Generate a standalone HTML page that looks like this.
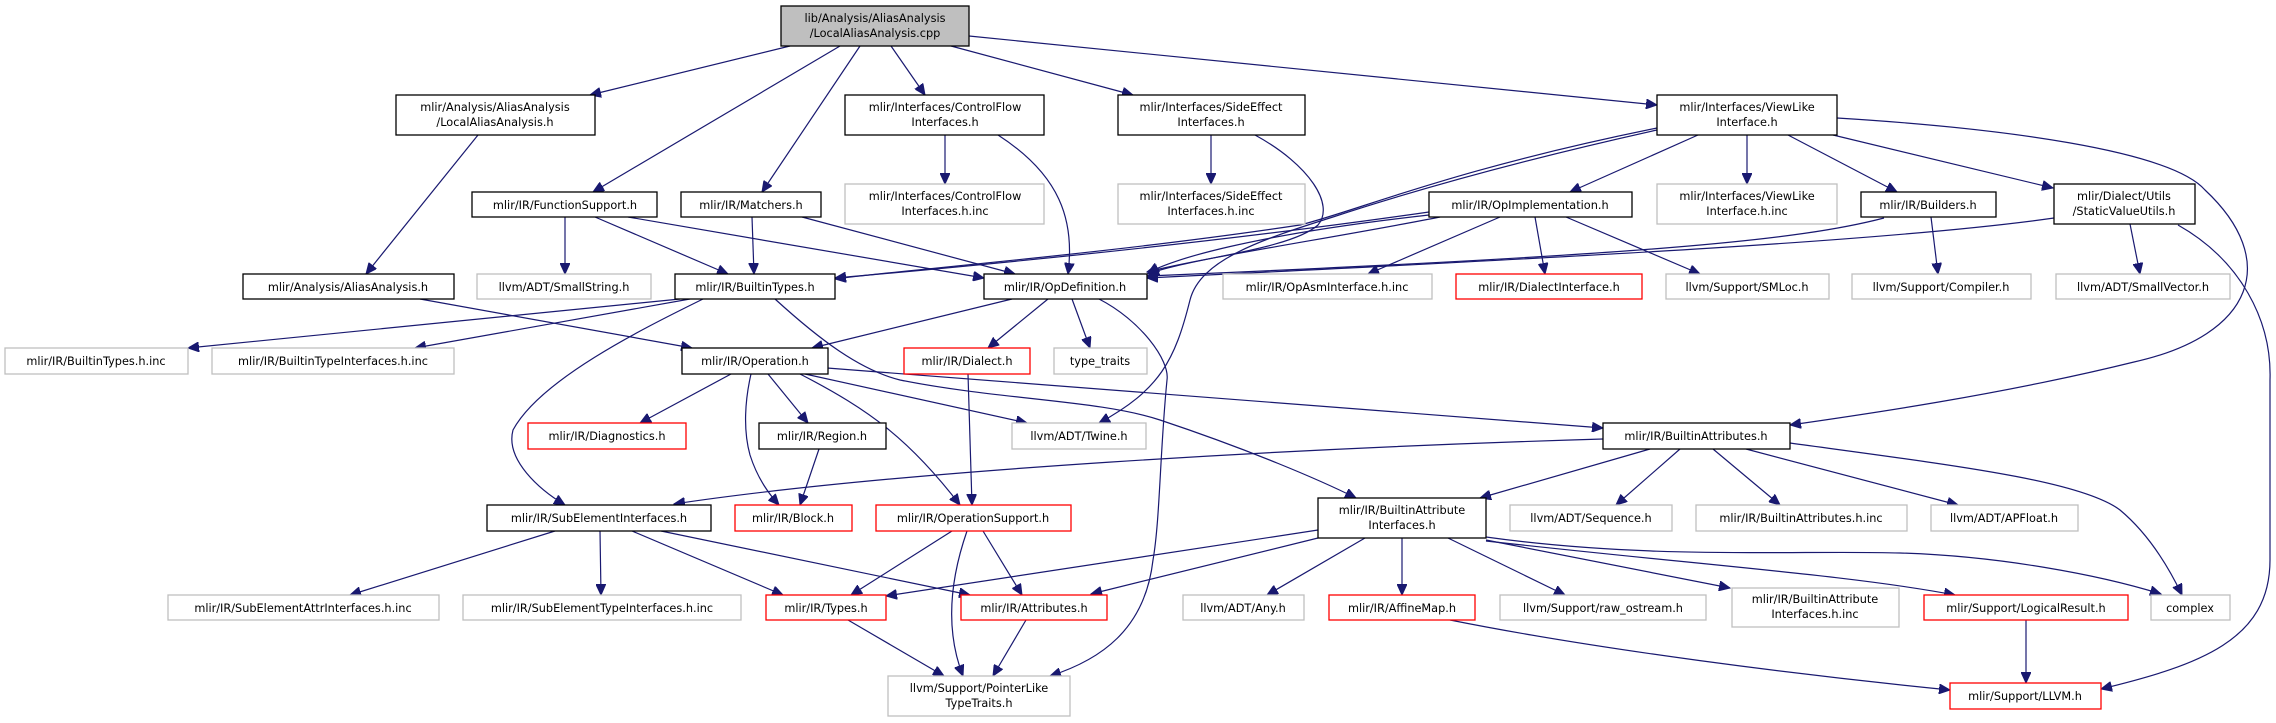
<!DOCTYPE html>
<html><head><meta charset="utf-8"><style>
html,body{margin:0;padding:0;background:#fff;}
svg{display:block;}
text{font-family:"DejaVu Sans","Liberation Sans",sans-serif;font-size:11.3px;fill:#000;text-anchor:middle;}
.e{fill:none;stroke:#191970;stroke-width:1.2;marker-end:url(#a);}
.b{fill:#fff;stroke:#000;stroke-width:1.3;}
.g{fill:#fff;stroke:#bfbfbf;stroke-width:1.3;}
.r{fill:#fff;stroke:#ff0000;stroke-width:1.3;}
</style></head><body>
<svg width="2276" height="723" viewBox="0 0 2276 723" xmlns="http://www.w3.org/2000/svg">
<defs><marker id="a" markerUnits="userSpaceOnUse" markerWidth="12" markerHeight="10" refX="11" refY="5" orient="auto"><path d="M0,0 L11,5 L0,10 Z" fill="#191970" stroke="#191970"/></marker></defs>

<!-- edges -->
<path class="e" d="M790,46 L590,95"/>
<path class="e" d="M840,46 L593,192"/>
<path class="e" d="M860,46 L762,192"/>
<path class="e" d="M891,46 L925,95"/>
<path class="e" d="M951,46 L1133,95"/>
<path class="e" d="M969,36 L1657,105"/>
<path class="e" d="M478,135 L366,274"/>
<path class="e" d="M420,299 L692,348"/>
<path class="e" d="M565,217 L565,274"/>
<path class="e" d="M595,217 L728,274"/>
<path class="e" d="M628,217 L984,278"/>
<path class="e" d="M752,217 L754,274"/>
<path class="e" d="M802,217 L1015,274"/>
<path class="e" d="M945,135 L945,184"/>
<path class="e" d="M998,135 C1060,175 1075,220 1068,274"/>
<path class="e" d="M1211,135 L1211,184"/>
<path class="e" d="M1255,135 C1310,165 1335,205 1318,225 C1290,250 1190,258 1148,274"/>
<path class="e" d="M1657,130 C1500,165 1400,195 1333,217 C1260,240 1200,260 1190,300 C1175,360 1160,390 1099,423"/>
<path class="e" d="M1657,128 C1450,170 1360,210 1300,225 C1100,255 900,270 835,279"/>
<path class="e" d="M1698,135 L1570,192"/>
<path class="e" d="M1747,135 L1747,184"/>
<path class="e" d="M1788,135 L1897,192"/>
<path class="e" d="M1833,135 L2053,188"/>
<path class="e" d="M1837,118 C2000,128 2170,150 2205,190 C2280,260 2255,335 2134,362 C2000,395 1860,415 1790,425"/>
<path class="e" d="M2178,225 C2240,260 2272,320 2270,380 L2270,560 C2270,640 2200,665 2101,689"/>
<path class="e" d="M2130,224 L2140,274"/>
<path class="e" d="M2054,218 C1900,240 1600,256 1147,278"/>
<path class="e" d="M1884,218 C1800,240 1650,255 1147,276"/>
<path class="e" d="M1931,217 L1938,274"/>
<path class="e" d="M1535,217 L1545,274"/>
<path class="e" d="M1566,217 L1700,274"/>
<path class="e" d="M1500,217 L1368,274"/>
<path class="e" d="M1440,217 C1350,235 1200,258 1147,272"/>
<path class="e" d="M1429,212 C1200,245 950,268 835,278"/>
<path class="e" d="M1429,215 C1250,235 1170,260 1148,273"/>
<path class="e" d="M680,299 L188,348"/>
<path class="e" d="M690,299 L415,348"/>
<path class="e" d="M703,299 C640,330 540,380 513,430 C505,460 540,490 565,505"/>
<path class="e" d="M775,299 C820,340 860,370 900,380 C1000,400 1100,400 1160,420 C1250,450 1320,480 1356,498"/>
<path class="e" d="M1012,299 L812,348"/>
<path class="e" d="M1048,299 L988,348"/>
<path class="e" d="M1072,299 L1090,348"/>
<path class="e" d="M1099,299 C1140,320 1170,360 1167,380 C1160,450 1160,520 1153,560 C1145,630 1100,660 1050,676"/>
<path class="e" d="M731,374 L640,423"/>
<path class="e" d="M751,374 C745,400 743,430 750,455 C758,480 770,495 779,505"/>
<path class="e" d="M768,374 L808,423"/>
<path class="e" d="M800,374 C870,410 910,440 960,505"/>
<path class="e" d="M805,374 L1027,423"/>
<path class="e" d="M827,368 L1603,428"/>
<path class="e" d="M968,374 L972,505"/>
<path class="e" d="M819,449 L800,505"/>
<path class="e" d="M1603,439 C1300,448 900,470 674,504"/>
<path class="e" d="M1650,449 L1480,498"/>
<path class="e" d="M1680,449 L1616,505"/>
<path class="e" d="M1713,449 L1780,505"/>
<path class="e" d="M1746,449 L1958,505"/>
<path class="e" d="M1790,443 C1950,465 2080,480 2120,510 C2150,535 2170,570 2182,595"/>
<path class="e" d="M555,531 L350,595"/>
<path class="e" d="M600,531 L601,595"/>
<path class="e" d="M632,531 L783,595"/>
<path class="e" d="M661,531 L970,595"/>
<path class="e" d="M952,531 L851,595"/>
<path class="e" d="M983,531 L1022,595"/>
<path class="e" d="M967,531 C950,580 945,630 963,676"/>
<path class="e" d="M1318,530 L886,596"/>
<path class="e" d="M1318,538 L1091,594"/>
<path class="e" d="M1365,538 L1267,595"/>
<path class="e" d="M1402,538 L1402,595"/>
<path class="e" d="M1448,538 L1565,595"/>
<path class="e" d="M1486,540 L1730,588"/>
<path class="e" d="M1486,541 C1700,565 1850,575 1955,595"/>
<path class="e" d="M1486,537 C1650,560 1800,550 1900,553 C2000,556 2100,575 2161,594"/>
<path class="e" d="M848,620 L944,676"/>
<path class="e" d="M1026,620 L993,676"/>
<path class="e" d="M1450,620 C1600,650 1800,675 1950,690"/>
<path class="e" d="M2026,620 L2026,683"/>

<!-- nodes -->
<rect x="781" y="6" width="188" height="40" fill="#bfbfbf" stroke="#000" stroke-width="1.3"/>
<text x="875" y="22">lib/Analysis/AliasAnalysis</text><text x="875" y="37">/LocalAliasAnalysis.cpp</text>

<rect class="b" x="396" y="95" width="199" height="40"/><text x="495" y="111">mlir/Analysis/AliasAnalysis</text><text x="495" y="126">/LocalAliasAnalysis.h</text>
<rect class="b" x="845" y="95" width="199" height="40"/><text x="945" y="111">mlir/Interfaces/ControlFlow</text><text x="945" y="126">Interfaces.h</text>
<rect class="b" x="1118" y="95" width="187" height="40"/><text x="1211" y="111">mlir/Interfaces/SideEffect</text><text x="1211" y="126">Interfaces.h</text>
<rect class="b" x="1657" y="95" width="180" height="40"/><text x="1747" y="111">mlir/Interfaces/ViewLike</text><text x="1747" y="126">Interface.h</text>

<rect class="b" x="472" y="192" width="185" height="25"/><text x="565" y="209">mlir/IR/FunctionSupport.h</text>
<rect class="b" x="681" y="192" width="140" height="25"/><text x="751" y="209">mlir/IR/Matchers.h</text>
<rect class="g" x="845" y="184" width="199" height="40"/><text x="945" y="200">mlir/Interfaces/ControlFlow</text><text x="945" y="215">Interfaces.h.inc</text>
<rect class="g" x="1118" y="184" width="187" height="40"/><text x="1211" y="200">mlir/Interfaces/SideEffect</text><text x="1211" y="215">Interfaces.h.inc</text>
<rect class="b" x="1429" y="192" width="203" height="25"/><text x="1530" y="209">mlir/IR/OpImplementation.h</text>
<rect class="g" x="1657" y="184" width="180" height="40"/><text x="1747" y="200">mlir/Interfaces/ViewLike</text><text x="1747" y="215">Interface.h.inc</text>
<rect class="b" x="1861" y="192" width="135" height="25"/><text x="1928" y="209">mlir/IR/Builders.h</text>
<rect class="b" x="2054" y="184" width="141" height="40"/><text x="2124" y="200">mlir/Dialect/Utils</text><text x="2124" y="215">/StaticValueUtils.h</text>

<rect class="b" x="243" y="274" width="211" height="25"/><text x="348" y="291">mlir/Analysis/AliasAnalysis.h</text>
<rect class="g" x="477" y="274" width="174" height="25"/><text x="564" y="291">llvm/ADT/SmallString.h</text>
<rect class="b" x="675" y="274" width="160" height="25"/><text x="755" y="291">mlir/IR/BuiltinTypes.h</text>
<rect class="b" x="984" y="274" width="163" height="25"/><text x="1065" y="291">mlir/IR/OpDefinition.h</text>
<rect class="g" x="1223" y="274" width="209" height="25"/><text x="1327" y="291">mlir/IR/OpAsmInterface.h.inc</text>
<rect class="r" x="1456" y="274" width="186" height="25"/><text x="1549" y="291">mlir/IR/DialectInterface.h</text>
<rect class="g" x="1666" y="274" width="163" height="25"/><text x="1747" y="291">llvm/Support/SMLoc.h</text>
<rect class="g" x="1852" y="274" width="179" height="25"/><text x="1941" y="291">llvm/Support/Compiler.h</text>
<rect class="g" x="2056" y="274" width="174" height="25"/><text x="2143" y="291">llvm/ADT/SmallVector.h</text>

<rect class="g" x="5" y="348" width="183" height="26"/><text x="96" y="365">mlir/IR/BuiltinTypes.h.inc</text>
<rect class="g" x="212" y="348" width="242" height="26"/><text x="333" y="365">mlir/IR/BuiltinTypeInterfaces.h.inc</text>
<rect class="b" x="682" y="348" width="146" height="26"/><text x="755" y="365">mlir/IR/Operation.h</text>
<rect class="r" x="904" y="348" width="126" height="26"/><text x="967" y="365">mlir/IR/Dialect.h</text>
<rect class="g" x="1054" y="348" width="93" height="26"/><text x="1100" y="365">type_traits</text>

<rect class="r" x="528" y="423" width="158" height="26"/><text x="607" y="440">mlir/IR/Diagnostics.h</text>
<rect class="b" x="759" y="423" width="127" height="26"/><text x="822" y="440">mlir/IR/Region.h</text>
<rect class="g" x="1012" y="423" width="134" height="26"/><text x="1079" y="440">llvm/ADT/Twine.h</text>
<rect class="b" x="1603" y="423" width="187" height="26"/><text x="1696" y="440">mlir/IR/BuiltinAttributes.h</text>

<rect class="b" x="487" y="505" width="224" height="26"/><text x="599" y="522">mlir/IR/SubElementInterfaces.h</text>
<rect class="r" x="735" y="505" width="117" height="26"/><text x="793" y="522">mlir/IR/Block.h</text>
<rect class="r" x="876" y="505" width="195" height="26"/><text x="973" y="522">mlir/IR/OperationSupport.h</text>
<rect class="b" x="1318" y="498" width="168" height="40"/><text x="1402" y="514">mlir/IR/BuiltinAttribute</text><text x="1402" y="529">Interfaces.h</text>
<rect class="g" x="1510" y="505" width="162" height="26"/><text x="1591" y="522">llvm/ADT/Sequence.h</text>
<rect class="g" x="1696" y="505" width="211" height="26"/><text x="1801" y="522">mlir/IR/BuiltinAttributes.h.inc</text>
<rect class="g" x="1931" y="505" width="147" height="26"/><text x="2004" y="522">llvm/ADT/APFloat.h</text>

<rect class="g" x="168" y="595" width="271" height="25"/><text x="303" y="612">mlir/IR/SubElementAttrInterfaces.h.inc</text>
<rect class="g" x="463" y="595" width="278" height="25"/><text x="602" y="612">mlir/IR/SubElementTypeInterfaces.h.inc</text>
<rect class="r" x="766" y="595" width="120" height="25"/><text x="826" y="612">mlir/IR/Types.h</text>
<rect class="r" x="961" y="595" width="146" height="25"/><text x="1034" y="612">mlir/IR/Attributes.h</text>
<rect class="g" x="1183" y="595" width="121" height="25"/><text x="1243" y="612">llvm/ADT/Any.h</text>
<rect class="r" x="1329" y="595" width="146" height="25"/><text x="1402" y="612">mlir/IR/AffineMap.h</text>
<rect class="g" x="1500" y="595" width="206" height="25"/><text x="1603" y="612">llvm/Support/raw_ostream.h</text>
<rect class="g" x="1732" y="588" width="167" height="39"/><text x="1815" y="603">mlir/IR/BuiltinAttribute</text><text x="1815" y="618">Interfaces.h.inc</text>
<rect class="r" x="1924" y="595" width="204" height="25"/><text x="2026" y="612">mlir/Support/LogicalResult.h</text>
<rect class="g" x="2151" y="595" width="79" height="25"/><text x="2190" y="612">complex</text>

<rect class="g" x="888" y="676" width="182" height="40"/><text x="979" y="692">llvm/Support/PointerLike</text><text x="979" y="707">TypeTraits.h</text>
<rect class="r" x="1950" y="683" width="151" height="26"/><text x="2025" y="700">mlir/Support/LLVM.h</text>
</svg>
</body></html>
